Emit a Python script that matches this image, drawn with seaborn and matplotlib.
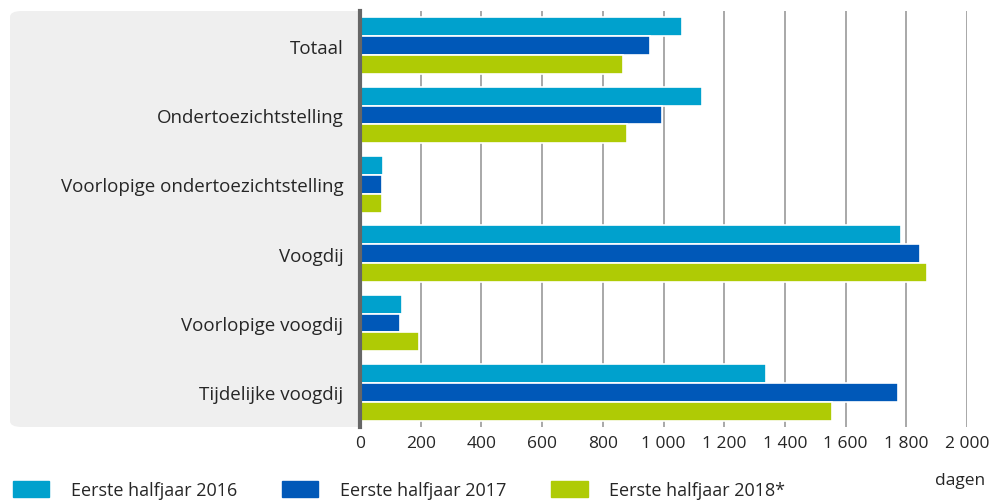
import pandas as pd
import numpy as np
import matplotlib.pyplot as plt
import seaborn as sns
from matplotlib.patches import FancyBboxPatch

categories = ["Totaal", "Ondertoezichtstelling", "Voorlopige ondertoezichtstelling",
              "Voogdij", "Voorlopige voogdij", "Tijdelijke voogdij"]
series = ["Eerste halfjaar 2016", "Eerste halfjaar 2017", "Eerste halfjaar 2018*"]
h2016 = [1061, 1126, 75, 1781, 137, 1339]
h2017 = [955, 994, 73, 1845, 132, 1772]
h2018 = [868, 879, 73, 1869, 193, 1556]
colors = ["#00a1cd", "#0058b8", "#afcb05"]
ticks = [0, 200, 400, 600, 800, 1000, 1200, 1400, 1600, 1800, 2000]

df = pd.DataFrame({
    "categorie": categories * 3,
    "periode": [series[0]] * 6 + [series[1]] * 6 + [series[2]] * 6,
    "dagen": h2016 + h2017 + h2018,
})

sns.set_style("white")
plt.rcParams["font.family"] = ["Open Sans", "DejaVu Sans"]

fig = plt.figure(figsize=(9.94, 5.02), dpi=100)
ax = fig.add_axes([360 / 994, 1 - 428 / 502, 607 / 994, 416 / 502])

# grey label panel behind the category names
panel = FancyBboxPatch((10 / 994, 74 / 502), 370 / 994, 416 / 502,
                       boxstyle="round,pad=0,rounding_size=0.012",
                       transform=fig.transFigure, facecolor="#efefef",
                       edgecolor="none", zorder=-1)
fig.patches.append(panel)

sns.barplot(data=df, y="categorie", x="dagen", hue="periode", order=categories,
            hue_order=series, palette=colors, saturation=1, orient="h", width=0.82,
            edgecolor="white", linewidth=1.2, ax=ax, legend=False, zorder=3)

ax.set_xlim(0, 2000)
ax.set_ylim(len(categories) - 0.5, -0.5)
ax.set_xticks(ticks)
ax.set_xticklabels([f"{t:,}".replace(",", " ") for t in ticks], fontsize=12.5)
ax.tick_params(axis="x", length=0, pad=6)
ax.tick_params(axis="y", length=0, pad=12, labelsize=13.5)
ax.set_xlabel("")
ax.set_ylabel("")
ax.grid(axis="x", color="#999999", linewidth=1.2, zorder=0)
ax.set_axisbelow(True)
for s in ["top", "right", "bottom"]:
    ax.spines[s].set_visible(False)
ax.spines["left"].set_color("#666666")
ax.spines["left"].set_linewidth(3)
ax.spines["left"].set_zorder(5)
ax.set_facecolor("white")

handles = [plt.Rectangle((0, 0), 1, 1, color=c) for c in colors]
fig.legend(handles, series, loc="lower left", bbox_to_anchor=(0.004, -0.014),
           ncol=3, frameon=False, fontsize=13, handlelength=2.0,
           handleheight=1.0, handletextpad=1.2, columnspacing=2.5, borderpad=0)
fig.text(985 / 994, 1 - 481 / 502, "dagen", ha="right", va="center", fontsize=12.5)

fig.savefig("out.png", dpi=100)
